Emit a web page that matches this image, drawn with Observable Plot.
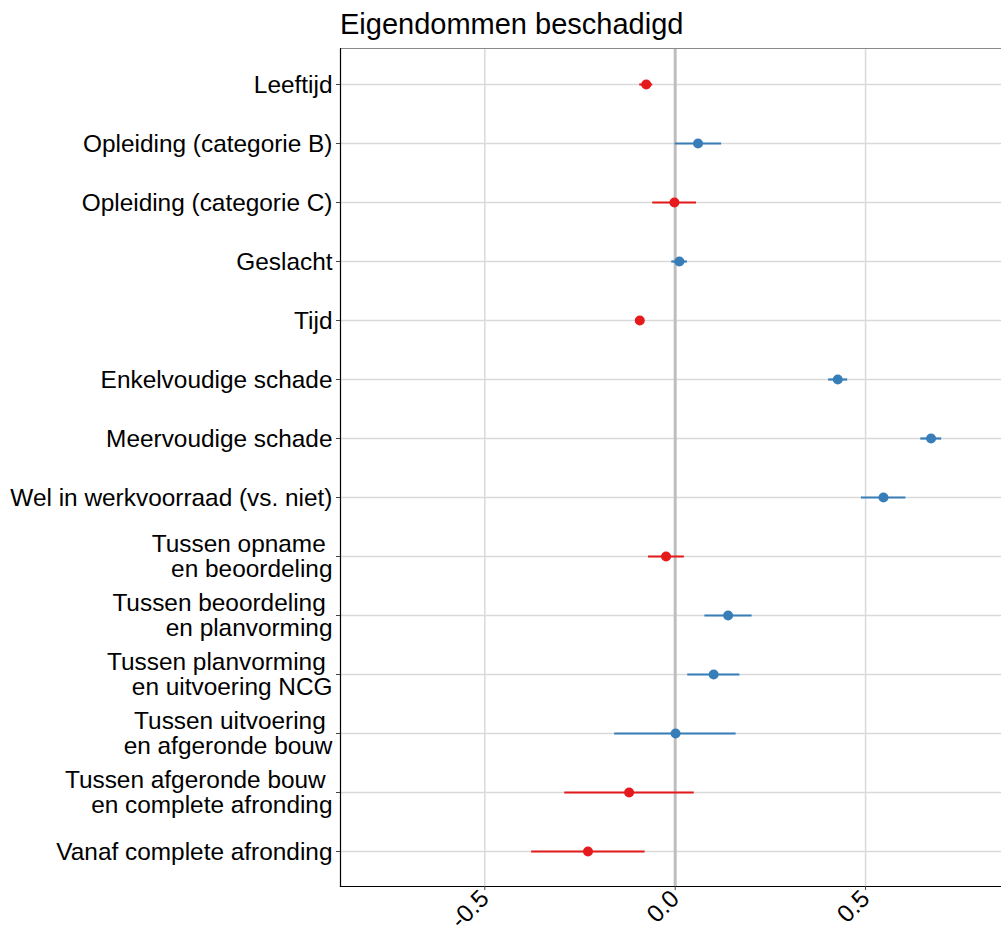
<!DOCTYPE html>
<html><head><meta charset="utf-8">
<script src="https://cdn.jsdelivr.net/npm/d3@7"></script>
<script src="https://cdn.jsdelivr.net/npm/@observablehq/plot@0.6"></script>
<style>
body{margin:0;background:#fff;}
#title{height:48px;line-height:48px;font-size:29px;font-family:"Liberation Sans",Arial,sans-serif;padding-left:340px;color:#000;white-space:nowrap;}
</style></head><body>
<div id="title">Eigendommen beschadigd</div>
<div id="chart"></div>
<script>
const labels = [
  "Leeftijd",
  "Opleiding (categorie B)",
  "Opleiding (categorie C)",
  "Geslacht",
  "Tijd",
  "Enkelvoudige schade",
  "Meervoudige schade",
  "Wel in werkvoorraad (vs. niet)",
  "Tussen opname\u00a0\nen beoordeling",
  "Tussen beoordeling\u00a0\nen planvorming",
  "Tussen planvorming\u00a0\nen uitvoering NCG",
  "Tussen uitvoering\u00a0\nen afgeronde bouw",
  "Tussen afgeronde bouw\u00a0\nen complete afronding",
  "Vanaf complete afronding"
];
const estimates = [-0.076, 0.060, -0.002, 0.011, -0.093, 0.427, 0.672, 0.547, -0.024, 0.139, 0.101, 0.001, -0.121, -0.229];
const lower     = [-0.093, 0.000, -0.059, -0.009, -0.097, 0.403, 0.645, 0.489, -0.070, 0.078, 0.033, -0.159, -0.290, -0.377];
const upper     = [-0.059, 0.122, 0.056, 0.032, -0.089, 0.453, 0.700, 0.606, 0.024, 0.202, 0.170, 0.160, 0.050, -0.079];
const xTicks = [-0.5, 0.0, 0.5];
const xDomain = [-0.879, 0.857];

const data = labels.map((l, i) => ({
  label: l, est: estimates[i], lo: lower[i], hi: upper[i],
  sign: estimates[i] < 0 ? "neg" : "pos"
}));

const chart = Plot.plot({
  width: 1001, height: 884,
  marginTop: 0, marginLeft: 340, marginRight: 0, marginBottom: 46,
  style: {fontFamily: '"Liberation Sans", Arial, sans-serif', fontSize: "24.4px", color: "#000", background: "#fff"},
  x: {domain: xDomain, label: null},
  y: {type: "point", domain: labels, padding: 0.6, label: null},
  color: {domain: ["neg", "pos"], range: ["#E41A1C", "#377EB8"]},
  marks: [
    Plot.ruleX(xTicks, {stroke: "#d9d9d9", strokeWidth: 1.5}),
    Plot.ruleY(labels, {stroke: "#d9d9d9", strokeWidth: 1.5}),
    Plot.ruleX([0], {stroke: "#bebebe", strokeWidth: 3}),
    Plot.frame({stroke: "#8a8a8a", strokeWidth: 1}),
    Plot.frame({anchor: "left", stroke: "#000", strokeWidth: 1.2}),
    Plot.frame({anchor: "bottom", stroke: "#000", strokeWidth: 1.2}),
    Plot.ruleY(data, {y: "label", x1: "lo", x2: "hi", stroke: "sign", strokeWidth: 2.2}),
    Plot.dot(data, {x: "est", y: "label", fill: "sign", r: 5}),
    Plot.axisX({ticks: xTicks, tickFormat: d => d.toFixed(1), tickRotate: -45, tickSize: 4, tickPadding: 4, stroke: "#444", fontSize: 24.4}),
    Plot.axisY({tickSize: 4, tickPadding: 4, stroke: "#444", fontSize: 24.4, lineHeight: 1.03})
  ]
});
document.getElementById("chart").appendChild(chart);
</script>
</body></html>
